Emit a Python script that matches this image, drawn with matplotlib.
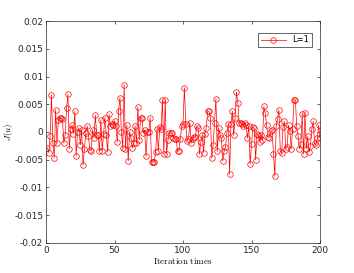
import matplotlib
matplotlib.use("Agg")
import matplotlib.pyplot as plt
import numpy as np

plt.rcParams['mathtext.fontset'] = 'cm'

# J(u) per iteration
iters = np.arange(1, 201)
ju = [
    -0.0028, -0.0037, -0.0007, 0.0067, -0.0020, -0.0046, 0.0040, -0.0020, 0.0022, 0.0025,
    0.0025, 0.0024, -0.0020, -0.0005, 0.0043, 0.0068, -0.0030, 0.0006, 0.0012, -0.0003,
    0.0037, -0.0043, 0.0000, 0.0007, -0.0023, 0.0004, -0.0060, -0.0030, -0.0002, 0.0011,
    -0.0008, -0.0032, -0.0034, 0.0004, -0.0010, 0.0030, -0.0006, -0.0005, -0.0035, 0.0022,
    -0.0034, -0.0004, 0.0026, -0.0005, -0.0036, 0.0032, 0.0011, 0.0015, 0.0012, 0.0020,
    0.0011, -0.0018, 0.0038, 0.0062, 0.0000, -0.0028, 0.0085, -0.0030, 0.0012, -0.0052,
    0.0000, -0.0010, -0.0029, -0.0020, 0.0011, -0.0020, 0.0045, -0.0015, 0.0026, 0.0026,
    -0.0002, 0.0003, -0.0044, 0.0000, 0.0000, 0.0026, -0.0054, -0.0054, -0.0054, -0.0036,
    0.0006, -0.0034, 0.0009, 0.0005, 0.0058, -0.0040, 0.0058, -0.0039, -0.0015, -0.0001,
    -0.0002, -0.0002, -0.0010, -0.0012, -0.0013, -0.0035, -0.0034, -0.0012, 0.0010, 0.0015,
    0.0080, 0.0015, -0.0016, -0.0012, 0.0017, -0.0020, -0.0012, -0.0009, -0.0009, 0.0010,
    0.0008, -0.0040, -0.0018, -0.0006, -0.0037, -0.0003, 0.0008, 0.0038, 0.0037, 0.0026,
    -0.0047, -0.0023, 0.0017, 0.0060, -0.0035, 0.0008, -0.0005, -0.0011, -0.0052, -0.0034,
    -0.0027, -0.0002, 0.0015, -0.0076, 0.0015, 0.0038, -0.0006, 0.0026, 0.0072, 0.0053,
    0.0017, 0.0017, 0.0014, 0.0011, 0.0017, 0.0013, -0.0011, 0.0011, -0.0058, -0.0022,
    0.0009, 0.0007, -0.0050, -0.0003, -0.0006, -0.0018, -0.0005, -0.0015, 0.0046, 0.0034,
    0.0012, -0.0009, -0.0010, 0.0001, 0.0003, -0.0040, -0.0080, 0.0010, 0.0024, 0.0040,
    -0.0034, -0.0038, 0.0009, 0.0019, -0.0030, -0.0027, 0.0012, 0.0002, -0.0030, 0.0005,
    0.0058, 0.0058, 0.0010, -0.0007, -0.0030, -0.0022, 0.0032, -0.0040, 0.0035, -0.0030,
    -0.0008, -0.0036, -0.0025, 0.0005, 0.0019, -0.0020, -0.0024, -0.0011, 0.0012, -0.0011,
]
xticks = [0, 50, 100, 150, 200]
yticks = [-0.02, -0.015, -0.01, -0.005, 0, 0.005, 0.01, 0.015, 0.02]
ytick_labels = ['-0.02', '-0.015', '-0.01', '-0.005', '0', '0.005', '0.01', '0.015', '0.02']

fig = plt.figure(figsize=(3.54, 2.73), dpi=100)
ax = fig.add_axes([0.130, 0.110, 0.774, 0.813])

ax.plot(iters, ju, color='red', lw=0.5, marker='o', ms=4.0,
        mfc='none', mec='red', mew=0.5, label='L=1')

ax.set_xlim(0, 200)
ax.set_ylim(-0.02, 0.02)
ax.set_xticks(xticks)
ax.set_yticks(yticks)
ax.set_yticklabels(ytick_labels)

ax.tick_params(direction='in', top=True, right=True, length=2.5, width=0.5,
               labelsize=6.5, colors='#262626', pad=2)
for s in ax.spines.values():
    s.set_linewidth(0.5)
    s.set_color('#262626')

ax.set_xlabel(r'$\mathrm{Iteration\ times}$', fontsize=6.5, labelpad=1)
ax.set_ylabel(r'$J(u)$', fontsize=6.5)
ax.yaxis.set_label_coords(-0.112, 0.5)

leg = ax.legend(loc='upper right', fontsize=6, fancybox=False, framealpha=1,
                edgecolor='#262626', borderpad=0.3, handlelength=3,
                bbox_to_anchor=(0.985, 0.965))
leg.get_frame().set_linewidth(0.5)

fig.savefig('out.png', dpi=100)
